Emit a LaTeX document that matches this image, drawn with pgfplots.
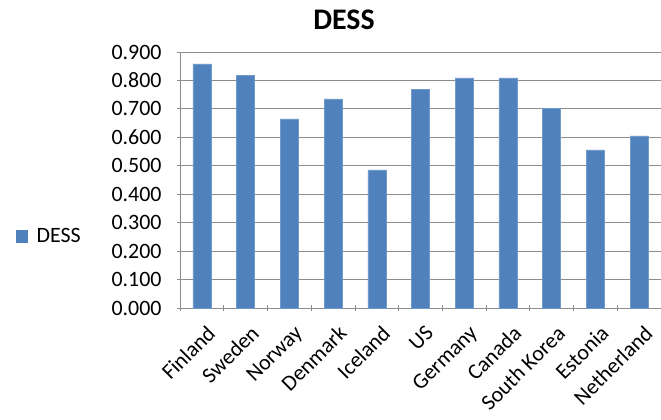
\documentclass[border=0pt]{standalone}
\usepackage{fontspec}
\setmainfont{Carlito}
\usepackage{pgfplots}
\usepackage{pgfplotstable}
\pgfplotsset{compat=1.18}
\definecolor{barblue}{HTML}{4F81BD}
\definecolor{gridgray}{HTML}{8C8C8C}

\pgfplotstableread{
idx value
0 0.858
1 0.817
2 0.665
3 0.735
4 0.486
5 0.768
6 0.809
7 0.809
8 0.701
9 0.556
10 0.605
}\dessdata

\begin{document}
\begin{tikzpicture}
\begin{axis}[
  name=ax,
  scale only axis,
  width=481bp, height=256bp,
  xmin=-0.5, xmax=10.5,
  ymin=0, ymax=0.9,
  ybar,
  bar width=18bp,
  xtick={0,1,2,3,4,5,6,7,8,9,10},
  xticklabels={Finland,Sweden,Norway,Denmark,Iceland,US,Germany,Canada,South Korea,Estonia,Netherland},
  minor xtick={-0.5,0.5,1.5,2.5,3.5,4.5,5.5,6.5,7.5,8.5,9.5,10.5},
  major x tick style={draw=none},
  minor x tick style={draw=gridgray, line width=0.8bp},
  minor tick length=6bp,
  ytick={0,0.1,0.2,0.3,0.4,0.5,0.6,0.7,0.8,0.9},
  major y tick style={draw=gridgray, line width=0.8bp},
  major tick length=6bp,
  tick align=outside,
  xtick pos=bottom, ytick pos=left,
  ymajorgrids,
  grid style={draw=gridgray, line width=0.8bp},
  axis lines=left,
  axis line style={-, draw=gridgray, line width=0.8bp},
  /pgf/number format/assume math mode=true,
  /pgf/number format/fixed,
  /pgf/number format/fixed zerofill,
  /pgf/number format/precision=3,
  yticklabel style={font=\fontsize{22}{22}\selectfont, text=black, xshift=-12bp},
  x tick label style={yshift=-10bp, xshift=4bp, rotate=45, anchor=north east, font=\fontsize{22}{22}\selectfont, text=black, inner sep=2bp},
  title={DESS},
  title style={at={(axis description cs:0.341,1.063)}, anchor=base, font=\bfseries\fontsize{30}{30}\selectfont},
  legend style={at={(axis description cs:-0.341,0.28)}, anchor=west, draw=none, fill=none, font=\fontsize{22}{22}\selectfont, inner sep=0pt},
  legend image code/.code={\fill[barblue] (0bp,-6bp) rectangle (11bp,6bp);},
]
\addplot[fill=barblue, draw=barblue!80!white, line width=0.5bp] table[x=idx, y=value] {\dessdata};
\addlegendentry{\hspace{7bp}DESS}
\end{axis}
\pgfresetboundingbox
\useasboundingbox ([shift={(-180bp,-112bp)}]ax.south west) rectangle ([shift={(0bp,52bp)}]ax.north east);
\end{tikzpicture}
\end{document}
